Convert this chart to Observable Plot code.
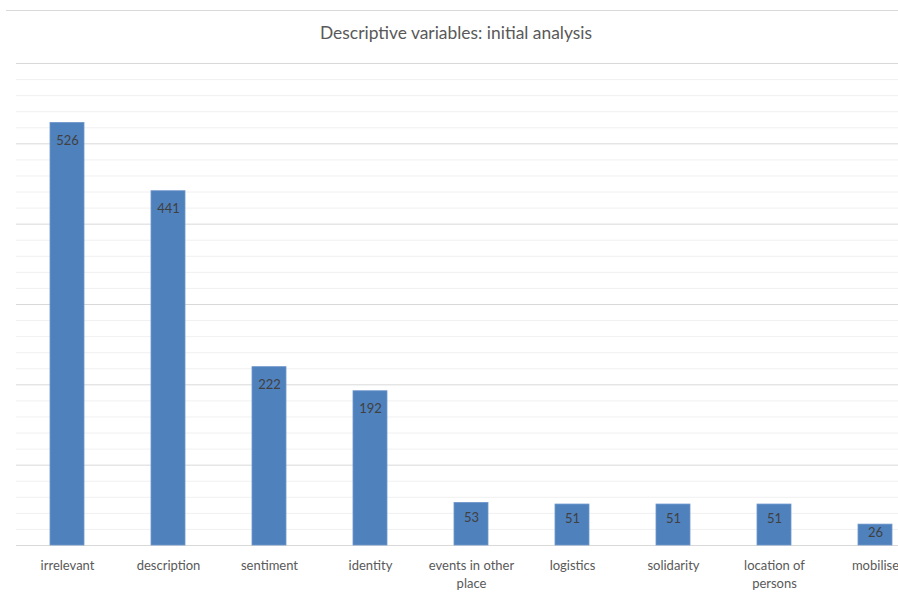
<!DOCTYPE html>
<html><head><meta charset="utf-8">
<script src="https://cdn.jsdelivr.net/npm/d3@7"></script>
<script src="https://cdn.jsdelivr.net/npm/@observablehq/plot@0.6"></script>
<style>
body{margin:0;background:#fff;overflow:hidden}
#wrap{position:relative;width:898px;height:592px;overflow:hidden;font-family:Lato,"Open Sans",sans-serif}
#border{position:absolute;left:6px;top:10px;width:900px;border-top:1px solid #d9d9d9}
#title{position:absolute;top:22px;left:0;width:912px;text-align:center;font-size:17.4px;color:#595959;z-index:2}
#chart{position:absolute;left:0;top:0}
</style></head><body>
<div id="wrap"><div id="border"></div><div id="title">Descriptive variables: initial analysis</div><div id="chart"></div></div>
<script>
const categories = ["irrelevant","description","sentiment","identity","events in other place","logistics","solidarity","location of persons","mobilise"];
const tickLabels = ["irrelevant","description","sentiment","identity","events in other\nplace","logistics","solidarity","location of\npersons","mobilise"];
const values = [526,441,222,192,53,51,51,51,26];
const minorTicks = [20,40,60,80,120,140,160,180,220,240,260,280,320,340,360,380,420,440,460,480,520,540,560,580];
const majorTicks = [0,100,200,300,400,500,600];

const data = categories.map((c,i)=>({cat:c, value:values[i]}));

const chart = Plot.plot({
  width: 898, height: 592,
  marginTop: 63, marginBottom: 47, marginLeft: 16, marginRight: 0,
  style: {fontFamily: "Lato, 'Open Sans', sans-serif", background: "transparent"},
  x: {type: "band", domain: categories, range: [15.5, 926], paddingInner: 0.66, paddingOuter: 0.33, align: 0.5},
  y: {domain: [0, 600], axis: null},
  marks: [
    Plot.ruleY(minorTicks, {stroke: "#f0f0f0", strokeWidth: 1}),
    Plot.ruleY(majorTicks, {stroke: "#d9d9d9", strokeWidth: 1}),
    Plot.barY(data, {x: "cat", y: "value", fill: "#4f81bd", stroke: "#6e96cb", strokeWidth: 0.8}),
    Plot.text(data, {x: "cat", y: d => Math.max(d.value - 20, d.value * 0.69), dy: 1.5, text: d => String(d.value), fill: "#404040", fontSize: 13}),
    Plot.axisX({tickSize: 0, tickPadding: 12, tickFormat: d => tickLabels[categories.indexOf(d)], fontSize: 13, fill: "#595959", lineHeight: 1.38, label: null})
  ]
});
document.getElementById("chart").appendChild(chart);
</script>
</body></html>
